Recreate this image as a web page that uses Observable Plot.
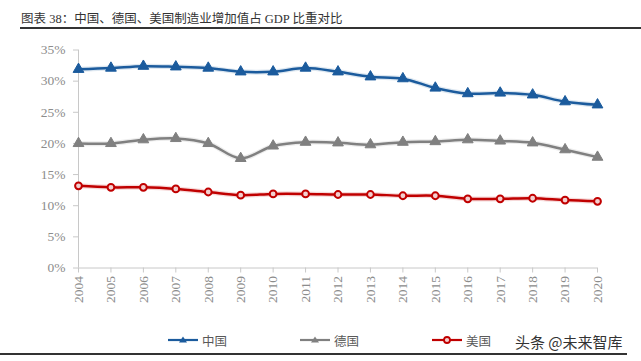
<!DOCTYPE html>
<html>
<head>
<meta charset="utf-8">
<script src="https://cdn.jsdelivr.net/npm/d3@7"></script>
<script src="https://cdn.jsdelivr.net/npm/@observablehq/plot@0.6"></script>
<style>
  html, body { margin: 0; padding: 0; background: #fff; }
  #wrap { position: relative; width: 641px; height: 361px; overflow: hidden; }
  #title {
    position: absolute; left: 20px; top: 0; width: 621px; height: 29px;
    border-bottom: 2px solid #333;
    font-family: "Liberation Serif", "Noto Sans CJK SC", serif;
    font-size: 12.5px; color: #333; line-height: 36px; padding-left: 1px; box-sizing: border-box;
  }
  #title .cjk { font-family: "Noto Sans CJK SC", sans-serif; font-weight: 400; }
  #chart { position: absolute; left: 0; top: 32px; }
  #legend {
    position: absolute; top: 330px; left: 0; width: 641px; height: 20px;
    font-family: "Noto Sans CJK SC", sans-serif; font-size: 12.5px; color: #595959;
  }
  #legend .item { position: absolute; top: 0; display: flex; align-items: center; height: 20px; }
  #legend svg { margin-right: 3px; }
  #mark {
    position: absolute; left: 515px; top: 331px;
    font-family: "Noto Sans CJK SC", sans-serif; font-size: 15px; color: #333;
  }
  #footrule { position: absolute; left: 0; top: 353px; width: 627px; height: 0; border-top: 2px solid #333; }
</style>
</head>
<body>
<div id="wrap">
  <div id="title"><span class="cjk">图表</span> 38<span class="cjk">：中国、德国、美国制造业增加值占</span> GDP <span class="cjk">比重对比</span></div>
  <div id="chart"></div>
  <div id="legend"></div>
  <div id="mark">头条 @未来智库</div>
  <div id="footrule"></div>
</div>
<script>
// Manufacturing value added as a share of GDP (%)
const years   = [2004, 2005, 2006, 2007, 2008, 2009, 2010, 2011, 2012, 2013, 2014, 2015, 2016, 2017, 2018, 2019, 2020];
const china   = [31.9, 32.1, 32.4, 32.3, 32.1, 31.5, 31.5, 32.1, 31.5, 30.7, 30.4, 28.9, 28.0, 28.1, 27.8, 26.7, 26.2];
const germany = [20.0, 20.0, 20.6, 20.8, 20.0, 17.6, 19.6, 20.2, 20.1, 19.8, 20.2, 20.3, 20.6, 20.4, 20.1, 19.0, 17.8];
const usa     = [13.2, 12.95, 12.95, 12.7, 12.2, 11.7, 11.9, 11.9, 11.8, 11.8, 11.6, 11.6, 11.1, 11.1, 11.2, 10.9, 10.7];
const seriesNames = ["中国", "德国", "美国"];
const yTicks = [0, 5, 10, 15, 20, 25, 30, 35];

const colors = {"中国": "#1b5b9d", "德国": "#808080", "美国": "#c00000"};
const rows = [
  ...years.map((year, i) => ({year, name: "中国", value: china[i]})),
  ...years.map((year, i) => ({year, name: "德国", value: germany[i]})),
  ...years.map((year, i) => ({year, name: "美国", value: usa[i]}))
];
const bySeries = name => rows.filter(d => d.name === name);

const axisFont = {fontFamily: "Liberation Serif, serif", fontSize: 13.5, fill: "#8c8c8c"};

const chart = Plot.plot({
  width: 641,
  height: 290,
  marginLeft: 78,
  marginRight: 44,
  marginTop: 17.5,
  marginBottom: 54.5,
  style: {background: "transparent", overflow: "visible"},
  x: {domain: [2004, 2020]},
  y: {domain: [0, 35]},
  marks: [
    Plot.ruleX([2004], {y1: 0, y2: 35, stroke: "#c8c8c8", strokeWidth: 1}),
    Plot.ruleY([0], {x1: 2004, x2: 2020, stroke: "#c8c8c8", strokeWidth: 1}),
    Plot.axisY({ticks: yTicks, tickFormat: d => d + "%", tickSize: 5, tickPadding: 8, stroke: "#c8c8c8", label: null, ...axisFont}),
    Plot.axisX({ticks: years, tickFormat: d => String(d), tickSize: 5, tickPadding: 3, tickRotate: -90, stroke: "#c8c8c8", label: null, ...axisFont}),
    // soft halo under each line
    ...seriesNames.map(n => Plot.line(bySeries(n), {x: "year", y: "value", stroke: colors[n], strokeWidth: 5, strokeOpacity: 0.15, curve: "catmull-rom"})),
    ...seriesNames.map(n => Plot.line(bySeries(n), {x: "year", y: "value", stroke: colors[n], strokeWidth: 2.5, curve: "catmull-rom"})),
    Plot.dot(bySeries("中国"), {x: "year", y: "value", symbol: "triangle", r: 4, fill: colors["中国"], stroke: colors["中国"], strokeWidth: 1}),
    Plot.dot(bySeries("德国"), {x: "year", y: "value", symbol: "triangle", r: 4, fill: colors["德国"], stroke: colors["德国"], strokeWidth: 1}),
    Plot.dot(bySeries("美国"), {x: "year", y: "value", symbol: "circle", r: 3.4, fill: "#f3d0d0", stroke: colors["美国"], strokeWidth: 2})
  ]
});
document.getElementById("chart").appendChild(chart);

// Legend: line segment with marker, then the series name
const legend = document.getElementById("legend");
const legendX = {"中国": 167, "德国": 299, "美国": 431};
seriesNames.forEach(n => {
  const item = document.createElement("div");
  item.className = "item";
  item.style.left = legendX[n] + "px";
  const c = colors[n];
  const marker = n === "美国"
    ? `<circle cx="16" cy="10" r="3" fill="#f3d0d0" stroke="${c}" stroke-width="1.8"/>`
    : `<path d="M16,6.5 L20,12.5 L12,12.5 Z" fill="${c}"/>`;
  item.innerHTML = `<svg width="32" height="20"><line x1="1" x2="31" y1="10" y2="10" stroke="${c}" stroke-width="2.2"/>${marker}</svg><span>${n}</span>`;
  legend.appendChild(item);
});
</script>
</body>
</html>
